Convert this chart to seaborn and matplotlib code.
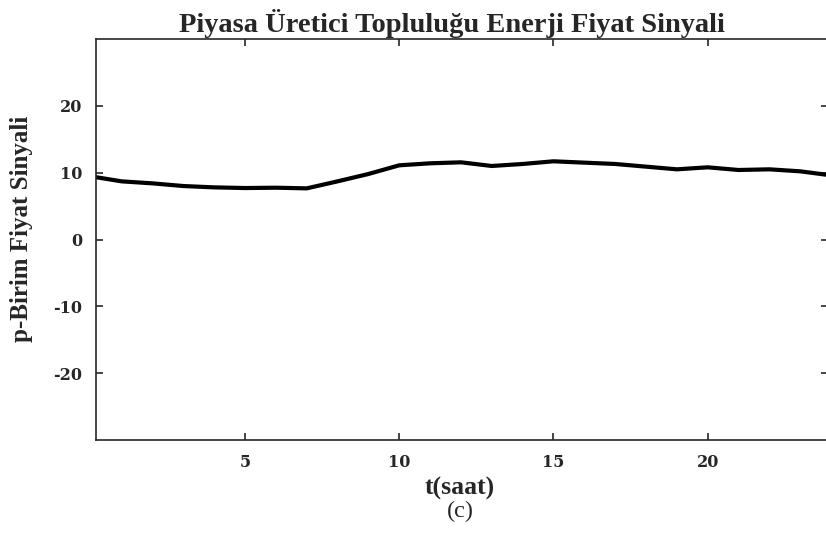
import matplotlib
matplotlib.use("Agg")
import matplotlib.pyplot as plt
import seaborn as sns
import pandas as pd

# Data
hours = [0, 1, 2, 3, 4, 5, 6, 7, 8, 9, 10, 11, 12,
         13, 14, 15, 16, 17, 18, 19, 20, 21, 22, 23, 24]
price = [9.45, 8.7, 8.4, 8.0, 7.8, 7.7, 7.75, 7.65, 8.7, 9.8, 11.1, 11.4, 11.55,
         11.0, 11.3, 11.7, 11.5, 11.3, 10.9, 10.5, 10.8, 10.4, 10.5, 10.2, 9.6]
x_ticks = [5, 10, 15, 20]
y_ticks = [-20, -10, 0, 10, 20]

title = "Piyasa Üretici Topluluğu Enerji Fiyat Sinyali"
xlabel = "t(saat)"
ylabel = "p-Birim Fiyat Sinyali"
sublabel = "(c)"

sns.set_style("ticks")
plt.rcParams["font.family"] = ["Liberation Serif", "DejaVu Serif"]
plt.rcParams["axes.unicode_minus"] = False

df = pd.DataFrame({"t": hours, "p": price})

fig = plt.figure(figsize=(8.26, 5.40), dpi=100)
ax = fig.add_axes([96 / 826, 1 - 440 / 540, (828 - 96) / 826, (440 - 39) / 540])

sns.lineplot(data=df, x="t", y="p", ax=ax, color="black", linewidth=3.0)

ax.set_xlim(0.17, 23.9)
ax.set_ylim(-30, 30)
ax.set_xticks(x_ticks)
ax.set_yticks(y_ticks)
ax.tick_params(axis="both", direction="in", length=5, width=1.2, color="#262626",
               top=True, right=True, labelsize=11.5, pad=10)
for lab in ax.get_xticklabels() + ax.get_yticklabels():
    lab.set_fontweight("bold")
    lab.set_family(["DejaVu Serif"])
    lab.set_color("#262626")

for s in ["left", "bottom", "top"]:
    ax.spines[s].set_color("#262626")
    ax.spines[s].set_linewidth(1.2)
ax.spines["right"].set_visible(False)

ax.set_xlabel("")
ax.set_ylabel("")

fig.text(452 / 826, 1 - 23 / 540, title, ha="center", va="center",
         fontsize=20.5, fontweight="bold")
fig.text(460 / 826, 1 - 488 / 540, xlabel, ha="center", va="center",
         fontsize=18.5, fontweight="bold")
fig.text(460 / 826, 1 - 511 / 540, sublabel, ha="center", va="center",
         fontsize=17.5)
fig.text(22 / 826, 1 - 229 / 540, ylabel, ha="center", va="center",
         fontsize=18, fontweight="bold", rotation=90)

fig.savefig("out.png", dpi=100)
